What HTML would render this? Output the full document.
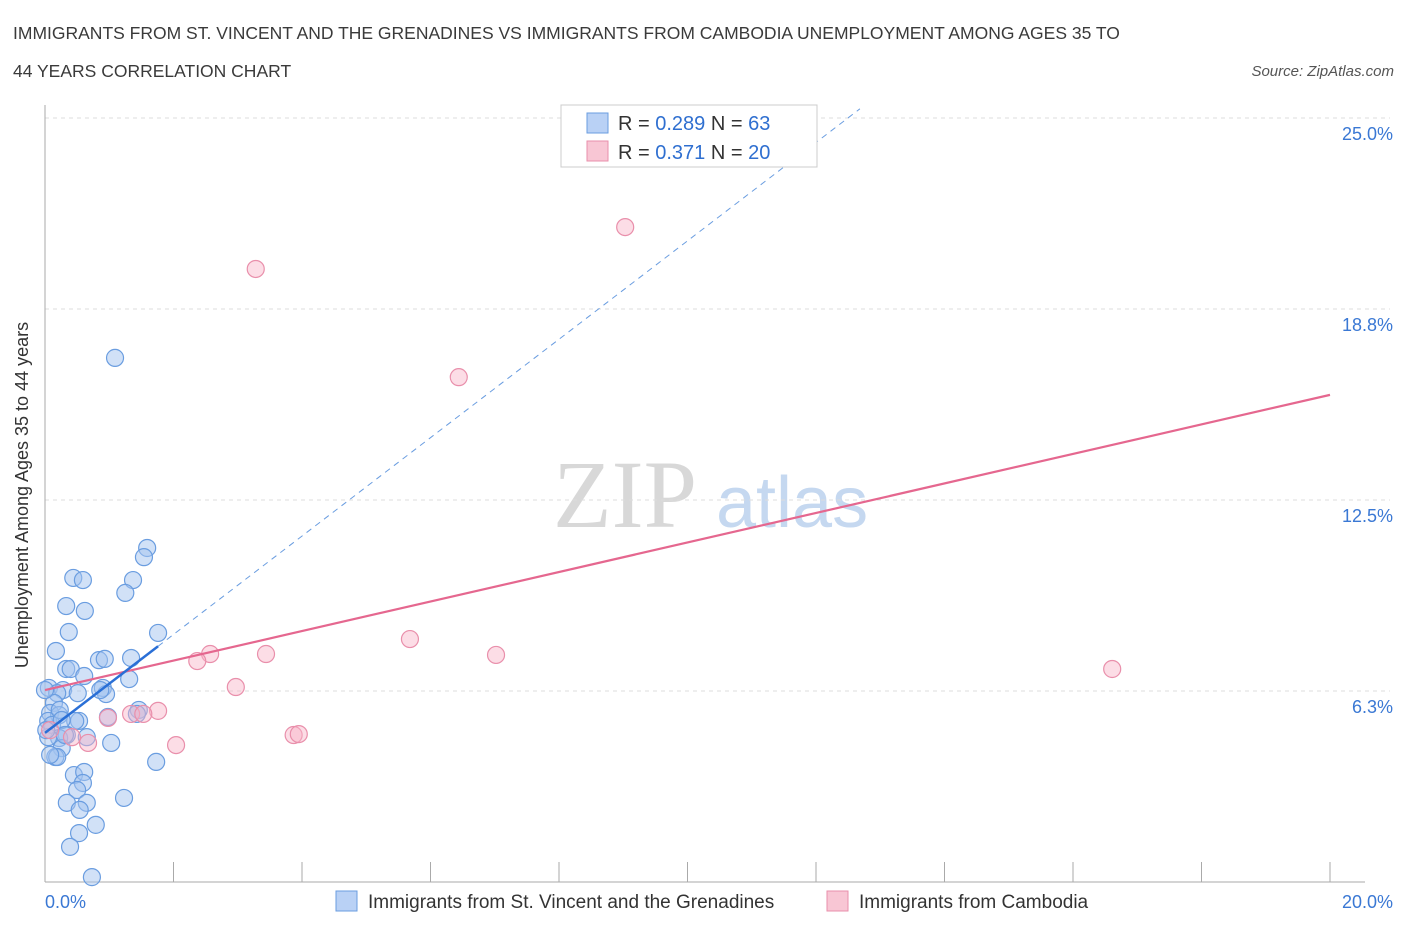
<!DOCTYPE html>
<html><head><meta charset="utf-8"><style>
body{margin:0;background:#fff;font-family:"Liberation Sans",sans-serif;}
svg{display:block}
</style></head><body>
<svg width="1406" height="930" xmlns="http://www.w3.org/2000/svg" id="chart">
<text x="13" y="39" font-size="17.5" fill="#3a3a3a">IMMIGRANTS FROM ST. VINCENT AND THE GRENADINES VS IMMIGRANTS FROM CAMBODIA UNEMPLOYMENT AMONG AGES 35 TO</text>
<text x="13" y="77" font-size="17.5" fill="#3a3a3a">44 YEARS CORRELATION CHART</text>
<text x="1394" y="76" font-size="15" fill="#555" font-style="italic" text-anchor="end">Source: ZipAtlas.com</text>
<g>
<text x="553" y="527" font-size="96" font-family="Liberation Serif,serif" fill="#d8d8d8">ZIP</text>
<text x="716" y="527" font-size="72" fill="#c5d8f0">atlas</text>
</g>
<g id="grid"></g>
<g id="axes"></g>
<g id="marks"></g>
<text x="28" y="495" font-size="18" fill="#333" text-anchor="middle" transform="rotate(-90 28 495)">Unemployment Among Ages 35 to 44 years</text>
<g>
<rect x="561" y="105" width="256" height="62" fill="#fff" stroke="#ccc"/>
<rect x="587" y="113" width="21" height="20" fill="#b9d1f5" stroke="#6a9de0"/>
<text x="618" y="130" font-size="20" fill="#333">R = <tspan fill="#2f6fd0">0.289</tspan>   N = <tspan fill="#2f6fd0">63</tspan></text>
<rect x="587" y="141" width="21" height="20" fill="#f8c6d4" stroke="#e98fab"/>
<text x="618" y="159" font-size="20" fill="#333">R =  <tspan fill="#2f6fd0">0.371</tspan>   N = <tspan fill="#2f6fd0">20</tspan></text>
</g>
<g>
<rect x="336" y="891" width="21" height="20" fill="#b9d1f5" stroke="#6a9de0"/>
<text x="368" y="908" font-size="19" fill="#333">Immigrants from St. Vincent and the Grenadines</text>
<rect x="827" y="891" width="21" height="20" fill="#f8c6d4" stroke="#e98fab"/>
<text x="859" y="908" font-size="19" fill="#333">Immigrants from Cambodia</text>
</g>
</svg>
<script>
const blueX=[1.09,1.59,1.54,0.44,0.59,1.37,1.25,0.33,0.62,0.37,1.76,0.17,0.33,0.40,0.84,0.93,1.34,0.61,1.31,0.06,0.28,0.19,0.90,0.95,0.14,0.08,0.22,0.53,0.47,0.05,1.46,1.43,0.98,0.11,0.34,0.65,0.22,1.03,0.05,0.26,0.16,0.19,1.73,0.45,0.61,0.59,0.50,1.23,0.34,0.65,0.54,0.79,0.53,0.39,0.73,0.23,0,0.02,0.08,0.26,0.31,0.86,0.51];
const blueY=[17.15,10.93,10.63,9.95,9.88,9.88,9.46,9.03,8.87,8.18,8.15,7.56,6.97,6.97,7.26,7.30,7.33,6.74,6.64,6.35,6.28,6.18,6.35,6.15,5.86,5.53,5.46,5.27,5.27,5.27,5.63,5.50,5.40,5.14,4.81,4.74,4.71,4.55,4.74,4.38,4.09,4.09,3.93,3.50,3.60,3.24,3.01,2.75,2.59,2.59,2.36,1.87,1.60,1.15,0.16,5.63,6.28,4.97,4.16,5.30,4.81,6.28,6.18];
const pinkX=[3.28,9.03,6.44,5.68,7.02,16.61,2.57,3.44,2.37,2.97,1.76,1.34,1.53,0.98,3.87,3.95,2.04,0.67,0.42,0.08];
const pinkY=[20.06,21.43,16.52,7.95,7.43,6.97,7.46,7.46,7.23,6.38,5.60,5.50,5.50,5.37,4.81,4.84,4.48,4.55,4.74,4.97];
const yTicks=[6.25,12.5,18.75,25];
const yTickLabels=["6.3%","12.5%","18.8%","25.0%"];
const xTicks=[0,2,4,6,8,10,12,14,16,18,20];
const blueTrend=[4.88,1.61]; // intercept, slope
const pinkTrend=[6.28,0.483];
const X0=45,X1=1330,Y0=882,Y1=118;
const sx=v=>X0+(v/20)*(X1-X0), sy=v=>Y0-(v/25)*(Y0-Y1);
const NS="http://www.w3.org/2000/svg";
function mk(tag,attrs,parent){const e=document.createElementNS(NS,tag);for(const k in attrs)e.setAttribute(k,attrs[k]);document.getElementById(parent).appendChild(e);return e;}
yTicks.forEach((t,i)=>{
 const g=mk('line',{x1:X0,x2:1390,y1:sy(t),y2:sy(t),stroke:'#ddd','stroke-dasharray':'4,4'},'grid');
 
 
 const l=mk('text',{x:1393,y:sy(t)+22,'font-size':18,fill:'#3a78d4','text-anchor':'end'},'axes');
 l.textContent=yTickLabels[i];
 
 
});
const ax=mk('line',{x1:X0,x2:X0,y1:105,y2:Y0,stroke:'#aaa'},'axes');


const bx=mk('line',{x1:X0,x2:X1+35,y1:Y0,y2:Y0,stroke:'#aaa'},'axes');


xTicks.forEach(t=>{
 const k=mk('line',{x1:sx(t),x2:sx(t),y1:Y0-20,y2:Y0,stroke:'#aaa'},'axes');
 
 
});
const xl0=mk('text',{x:45,y:908,'font-size':18,fill:'#3a78d4'},'axes');xl0.textContent=xTicks[0].toFixed(1)+"%";


const xl1=mk('text',{x:1393,y:908,'font-size':18,fill:'#3a78d4','text-anchor':'end'},'axes');xl1.textContent=xTicks[xTicks.length-1].toFixed(1)+"%";


blueX.forEach((x,i)=>{
 const c=mk('circle',{cx:sx(x),cy:sy(blueY[i]),r:8.5,fill:'rgba(164,196,240,0.5)',stroke:'#6a9de0','stroke-width':1.2},'marks');
 
 
});
pinkX.forEach((x,i)=>{
 const c=mk('circle',{cx:sx(x),cy:sy(pinkY[i]),r:8.5,fill:'rgba(248,180,200,0.45)',stroke:'#e98fab','stroke-width':1.2},'marks');
 
 
});
const bxMax=Math.max(...blueX), bEnd=(25.3-blueTrend[0])/blueTrend[1];
const bd=mk('line',{x1:sx(bxMax),y1:sy(blueTrend[0]+blueTrend[1]*bxMax),x2:sx(bEnd),y2:sy(25.3),stroke:'#6a9de0','stroke-width':1,'stroke-dasharray':'6,5'},'marks');


const pl=mk('line',{x1:sx(0),y1:sy(pinkTrend[0]),x2:sx(20),y2:sy(pinkTrend[0]+pinkTrend[1]*20),stroke:'#e5678f','stroke-width':2.2},'marks');


const bl=mk('line',{x1:sx(0),y1:sy(blueTrend[0]),x2:sx(bxMax),y2:sy(blueTrend[0]+blueTrend[1]*bxMax),stroke:'#2a6fd6','stroke-width':2.5},'marks');


</script>
</body></html>
